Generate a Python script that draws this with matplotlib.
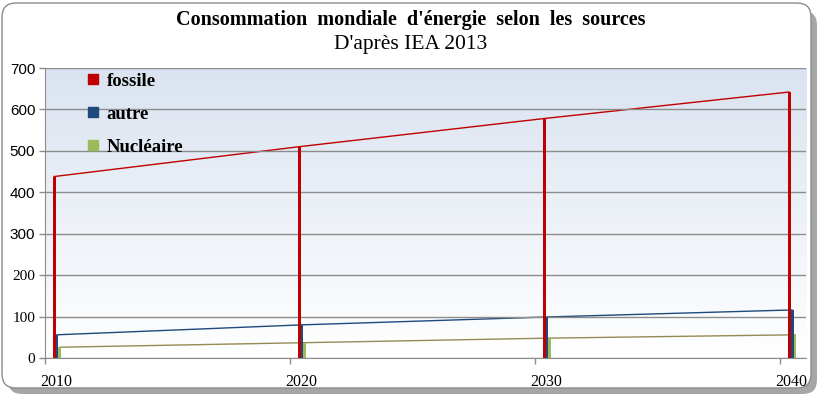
import numpy as np
import matplotlib.pyplot as plt
from matplotlib.patches import FancyBboxPatch
from matplotlib.lines import Line2D
from matplotlib.colors import LinearSegmentedColormap

# Données (IEA 2013)
years = [2010, 2020, 2030, 2040]
fossile = [438, 510, 578, 642]
autre = [56, 80, 99, 116]
nucleaire = [26, 37, 48, 56]

labels = ["fossile", "autre", "Nucléaire"]
bar_colors = ["#c00000", "#1f497d", "#9bbb59"]
line_colors = ["#c00000", "#1f497d", "#948a54"]
yticks = [0, 100, 200, 300, 400, 500, 600, 700]

fig = plt.figure(figsize=(8.21, 3.95), dpi=100)

# cadre arrondi avec ombre
shadow = FancyBboxPatch((8, 1), 809, 383, boxstyle="round,pad=0,rounding_size=14",
                        transform=None, facecolor="#a6a6a6", edgecolor="none", zorder=-3)
box = FancyBboxPatch((2, 7), 809, 385, boxstyle="round,pad=0,rounding_size=14",
                     transform=None, facecolor="white", edgecolor="#8c8c8c", lw=1, zorder=-2)
fig.patches.extend([shadow, box])

ax = fig.add_axes([45 / 821, 37 / 395, 761 / 821, 290 / 395])
ax.set_xlim(2010, 2041.06)
ax.set_ylim(0, 700)

# fond dégradé
cmap = LinearSegmentedColormap.from_list("bg", ["#ffffff", "#dae3f0"])
grad = np.linspace(0, 1, 256).reshape(-1, 1)
ax.imshow(grad, cmap=cmap, aspect="auto", origin="lower",
          extent=[0, 1, 0, 1], transform=ax.transAxes, zorder=0)

ax.set_yticks(yticks)
ax.yaxis.grid(True, color="#8c8c8c", lw=1, zorder=1)
ax.set_axisbelow(False)

series = [fossile, autre, nucleaire]
w = 0.12
offsets = [0.37, 0.49, 0.61]
for vals, off, bc, lc in zip(series, offsets, bar_colors, line_colors):
    xs = np.array(years) + off
    ax.bar(xs, vals, width=w, color=bc, zorder=3)
    ax.plot(xs, vals, color=lc, lw=1.0, zorder=2)

for s in ["top", "right"]:
    ax.spines[s].set_visible(False)
for s in ["left", "bottom"]:
    ax.spines[s].set_color("#8c8c8c")
    ax.spines[s].set_zorder(4)

ax.set_xticks(years)
ax.set_xticklabels([])
ax.tick_params(axis="both", colors="#8c8c8c", length=4, width=1)
for yr in years:
    ax.text(yr + 0.45, -0.055, str(yr), transform=ax.get_xaxis_transform(),
            ha="center", va="top", fontsize=11.5, family="Liberation Serif", color="black")

ax.set_yticklabels([str(v) for v in yticks])
for lab, v in zip(ax.get_yticklabels(), yticks):
    lab.set_color("black")
    lab.set_fontsize(11)
    lab.set_family("Liberation Serif" if v <= 200 else "Liberation Sans")
ax.tick_params(axis="y", pad=3)

handles = [Line2D([], [], marker="s", ls="none", color=c, markersize=7) for c in bar_colors]
ax.legend(handles, labels, loc="upper left", bbox_to_anchor=(0.033, 1.03), frameon=False,
          borderpad=0.2, labelspacing=0.85, handletextpad=0.25, handlelength=1.0,
          prop={"family": "Liberation Serif", "weight": "bold", "size": 13.5})

fig.text(0.5, 1 - 20 / 395, "Consommation  mondiale  d'énergie  selon  les  sources",
         ha="center", va="center", fontsize=14.5, fontweight="bold", family="Liberation Serif")
fig.text(0.5, 1 - 45 / 395, "D'après IEA 2013", ha="center", va="center",
         fontsize=15.5, family="Liberation Serif")

fig.savefig("out.png", dpi=100)
